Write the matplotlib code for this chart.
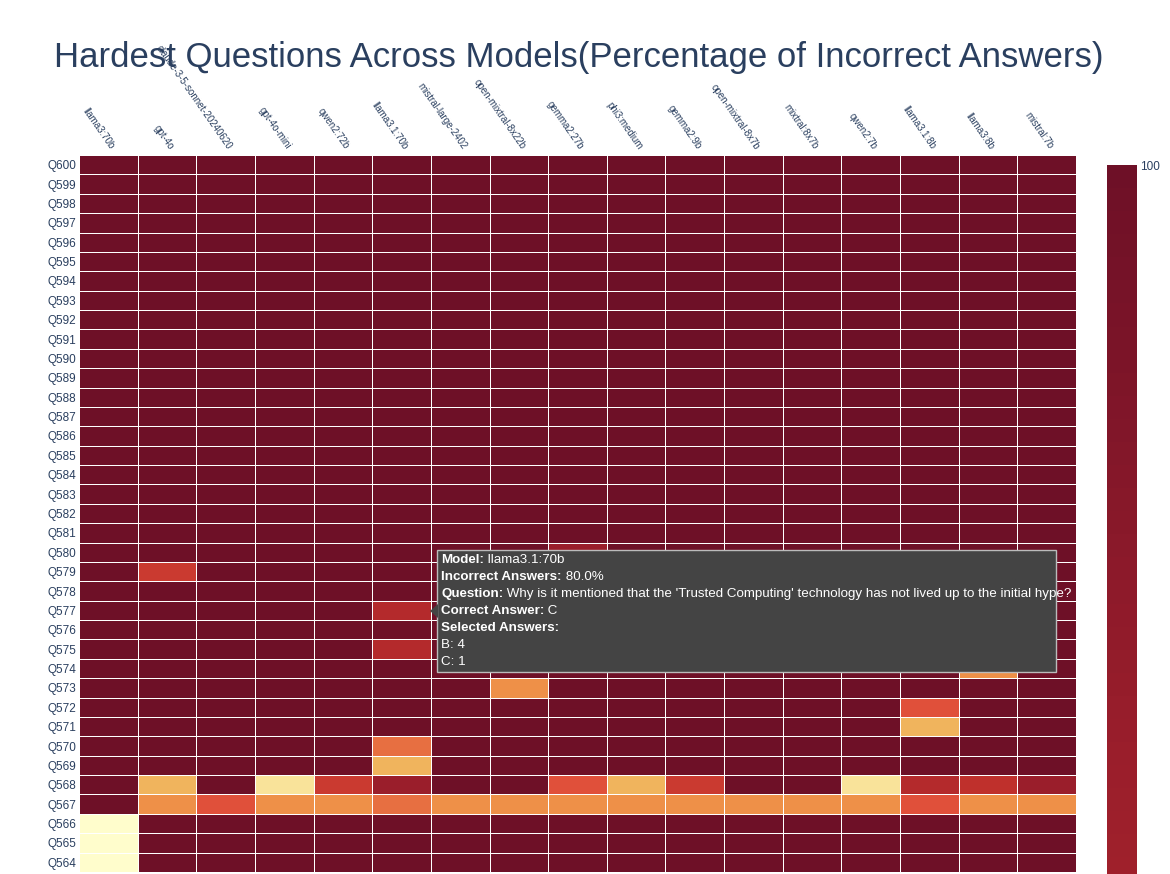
import numpy as np
import matplotlib.pyplot as plt
from matplotlib.colors import LinearSegmentedColormap
from matplotlib.patches import Rectangle, Polygon

plt.rcParams['font.family'] = ['Liberation Sans', 'DejaVu Sans']

models = ['llama3:70b', 'gpt-4o', 'claude-3-5-sonnet-20240620', 'gpt-4o-mini', 'qwen2:72b',
          'llama3.1:70b', 'mistral-large-2402', 'open-mixtral-8x22b', 'gemma2:27b', 'phi3:medium',
          'gemma2:9b', 'open-mixtral-8x7b', 'mixtral:8x7b', 'qwen2:7b', 'llama3.1:8b',
          'llama3:8b', 'mistral:7b']
questions = ['Q%d' % q for q in range(564, 601)]

# percentage incorrect, everything 100 unless listed
vals = np.full((len(questions), len(models)), 100.0)
vals[0:3, 0] = 0
vals[3] = [100, 40, 60, 40, 40, 50, 40, 40, 40, 40, 40, 40, 40, 40, 60, 40, 40]
vals[4] = [100, 30, 100, 20, 70, 90, 100, 100, 60, 30, 70, 100, 100, 20, 80, 75, 90]
vals[5, 5] = 30
vals[6, 5] = 50
vals[7, 14] = 30
vals[8, 14] = 60
vals[9, 7] = 40
vals[10, 15] = 40
vals[11, 5] = 80
vals[13, 5] = 80
vals[15, 1] = 70
vals[16, 8] = 90

W, H = 1170, 874
def fx(x): return x / W
def fy(y): return 1 - y / H

cmap = LinearSegmentedColormap.from_list('ylorrd', [
    (0.0, '#fffdcc'), (0.2, '#f9e39a'), (0.3, '#f0b35c'), (0.4, '#ee9048'),
    (0.6, '#e0503a'), (0.75, '#c0302c'), (0.9, '#9b1e2b'), (1.0, '#6e1027')])

fig = plt.figure(figsize=(11.7, 8.74), dpi=100)
ax = fig.add_axes([fx(79), fy(872), fx(1076 - 79), (872 - 155) / H])
im = ax.pcolormesh(vals, cmap=cmap, vmin=0, vmax=100, edgecolor='white', linewidth=0.5)
ax.set_xlim(0, len(models))
ax.set_ylim(0, len(questions))
ax.set_yticks(np.arange(len(questions)) + 0.5)
ax.set_yticklabels(questions, fontsize=8.5, color='#2a3f5f')
ax.set_xticks([])
ax.tick_params(axis='y', length=0, pad=2)
for s in ax.spines.values():
    s.set_visible(False)
for i, m in enumerate(models):
    ax.text(i + 0.5, len(questions) + 0.2, m, rotation=-55, rotation_mode='anchor',
            ha='right', va='bottom', fontsize=7, color='#2a3f5f')

fig.text(fx(579), fy(58), 'Hardest Questions Across Models(Percentage of Incorrect Answers)',
         ha='center', va='center', fontsize=25, color='#2a3f5f')

cax = fig.add_axes([fx(1107), 0, fx(30), fy(165)])
cb = fig.colorbar(im, cax=cax)
cb.outline.set_visible(False)
cax.set_ylim(88, 100)
cb.set_ticks([100])
cax.tick_params(length=0, labelsize=8.5, labelcolor='#2a3f5f', pad=2)
cax.yaxis.set_tick_params(which='minor', length=0)

# hover tooltip on an overlay axes in pixel coordinates
ov = fig.add_axes([0, 0, 1, 1], facecolor='none')
ov.set_xlim(0, W)
ov.set_ylim(H, 0)
ov.axis('off')
ov.add_patch(Rectangle((437, 550), 1056 - 437, 672 - 550, facecolor='#444444',
                       edgecolor='#bbbbbb', lw=1))
ov.add_patch(Polygon([(438, 604), (430, 611), (438, 618)], closed=True,
                     facecolor='#444444', edgecolor='none'))
lines = [('Model:', ' llama3.1:70b'), ('Incorrect Answers:', ' 80.0%'),
         ('Question:', " Why is it mentioned that the 'Trusted Computing' technology has not lived up to the initial hype?"),
         ('Correct Answer:', ' C'), ('Selected Answers:', ''), ('', 'B: 4'), ('', 'C: 1')]
for k, (b, n) in enumerate(lines):
    y = 560 + 17 * k
    t = ov.text(441, y, b, fontsize=9.6, fontweight='bold', color='white', va='center')
    ov.annotate(n, xy=(1, 0.5), xycoords=t, va='center', ha='left',
                fontsize=9.6, color='white', annotation_clip=False)

fig.savefig('out.png', dpi=100)
